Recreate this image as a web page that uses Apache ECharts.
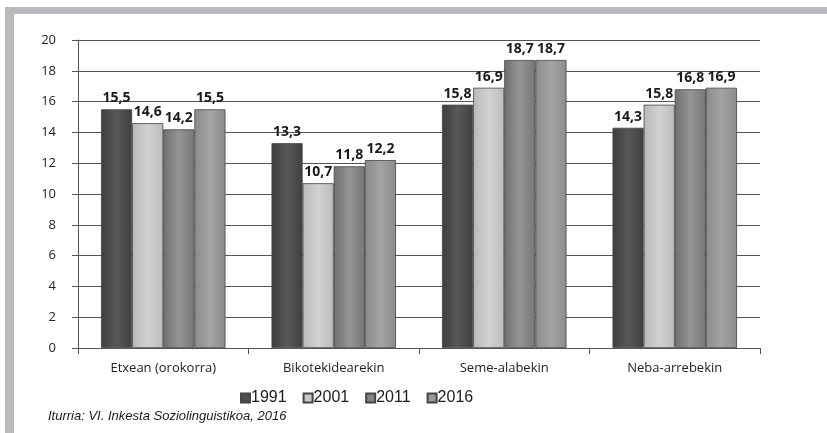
<!DOCTYPE html>
<html><head><meta charset="utf-8">
<script src="https://cdn.jsdelivr.net/npm/echarts@6/dist/echarts.min.js"></script>
<style>html,body{margin:0;padding:0;background:#fff}#c{width:827px;height:433px}</style>
</head><body><div id="c"></div>
<script>
var categories = ['Etxean (orokorra)', 'Bikotekidearekin', 'Seme-alabekin', 'Neba-arrebekin'];
var years = ['1991', '2001', '2011', '2016'];
var v1991 = [15.5, 13.3, 15.8, 14.3];
var v2001 = [14.6, 10.7, 16.9, 15.8];
var v2011 = [14.2, 11.8, 18.7, 16.8];
var v2016 = [15.5, 12.2, 18.7, 16.9];
var yTicks = [0, 2, 4, 6, 8, 10, 12, 14, 16, 18, 20];
var sourceText = 'Iturria: VI. Inkesta Soziolinguistikoa, 2016';

var seriesValues = [v1991, v2001, v2011, v2016];
var colors = [
  ['#3e3e3e', '#585858', '#404040'],
  ['#b8b8b8', '#d2d2d2', '#bcbcbc'],
  ['#6f6f6f', '#959595', '#777777'],
  ['#8a8a8a', '#a4a4a4', '#8c8c8c']
];
var legendColors = ['#4d4d4d', '#c6c6c6', '#858585', '#999999'];

var chart = echarts.init(document.getElementById('c'), null, {renderer: 'canvas'});
var series = years.map(function (y, i) {
  return {
    name: y,
    type: 'bar',
    data: seriesValues[i],
    barGap: '0%',
    barCategoryGap: '27%',
    itemStyle: {
      color: new echarts.graphic.LinearGradient(0, 0, 1, 0, [
        {offset: 0, color: colors[i][0]},
        {offset: 0.5, color: colors[i][1]},
        {offset: 1, color: colors[i][2]}
      ]),
      borderColor: '#444',
      borderWidth: 0.8
    },
    label: {
      show: true,
      position: 'top',
      distance: 4,
      color: '#1a1a1a',
      fontWeight: 'bold',
      fontSize: 14,
      fontFamily: 'Open Sans',
      formatter: function (p) { return String(p.value).replace('.', ','); }
    }
  };
});

chart.setOption({
  animation: false,
  backgroundColor: '#fff',
  color: legendColors,
  grid: {left: 78, right: 67, top: 40, bottom: 85},
  legend: {
    data: years.map(function (y, i) { return {name: y, itemStyle: {color: legendColors[i]}}; }),
    top: 385,
    left: 235,
    itemWidth: 9,
    itemHeight: 9,
    itemGap: 16,
    icon: 'rect',
    textStyle: {fontSize: 16, color: '#1a1a1a', fontFamily: 'Liberation Sans', padding: [0, 0, 0, -4]}
  },
  xAxis: {
    type: 'category',
    data: categories,
    axisLine: {lineStyle: {color: '#555', width: 1}},
    axisTick: {show: true, alignWithLabel: false, length: 6, lineStyle: {color: '#555'}},
    axisLabel: {fontSize: 13, color: '#222', margin: 14, fontFamily: 'Open Sans'}
  },
  yAxis: {
    type: 'value',
    min: yTicks[0],
    max: yTicks[yTicks.length - 1],
    interval: 2,
    axisLine: {show: true, lineStyle: {color: '#555'}},
    axisTick: {show: true, length: 6, lineStyle: {color: '#555'}},
    axisLabel: {fontSize: 13, color: '#222', margin: 22, fontFamily: 'Open Sans'},
    splitLine: {lineStyle: {color: '#555', width: 1}}
  },
  series: series,
  graphic: [
    {type: 'rect', shape: {x: 5, y: 7, width: 822, height: 7}, style: {fill: '#b9babd'}, z: 100},
    {type: 'rect', shape: {x: 5, y: 7, width: 9, height: 426}, style: {fill: '#b9babd'}, z: 100},
    {type: 'text', left: 48, top: 410, style: {text: sourceText, fontSize: 13, fontStyle: 'italic', fill: '#1a1a1a', fontFamily: 'Liberation Sans'}}
  ]
});
</script>
</body></html>
